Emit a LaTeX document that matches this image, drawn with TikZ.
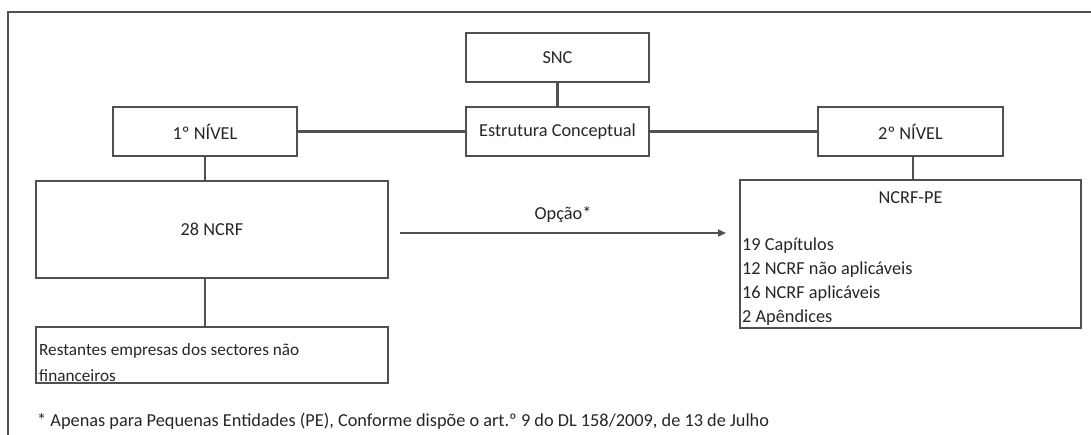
\documentclass[tikz,border=0pt]{standalone}
\usepackage{fontspec}
\setmainfont{Carlito}
\usetikzlibrary{arrows.meta}
\definecolor{edge}{HTML}{505050}
\definecolor{ink}{HTML}{262626}
\begin{document}
\begin{tikzpicture}[x=1pt,y=-1pt,
  box/.style={draw=edge,line width=2.4pt,rectangle,inner sep=0pt},
  lbl/.style={text=ink,font=\fontsize{18.3}{20}\selectfont,inner sep=0pt},
  link/.style={draw=edge,line width=2.4pt}]
\useasboundingbox (0,0) rectangle (1091,434);
\begin{scope}
\clip (0,0) rectangle (1091,434);
\draw[edge,line width=2.2pt] (8,12) rectangle (1100,445);
\end{scope}
% top row
\node[box,minimum width=183pt,minimum height=49pt] (snc) at (557.5,57.5) {};
\node[lbl] at (snc.center) {SNC};
\node[box,minimum width=183pt,minimum height=49pt] (ec) at (557.5,131.5) {};
\node[lbl] at (ec.center) {Estrutura Conceptual};
\node[box,minimum width=184pt,minimum height=49pt] (n1) at (205,131.5) {};
\node[lbl] at (n1.center) {1º NÍVEL};
\node[box,minimum width=185pt,minimum height=49pt] (n2) at (910.5,131.5) {};
\node[lbl] at (n2.center) {2º NÍVEL};
% lower boxes
\node[box,minimum width=352pt,minimum height=97pt] (ncrf) at (212,229.5) {};
\node[lbl] at (ncrf.center) {28 NCRF};
\node[box,minimum width=352pt,minimum height=56pt] (rest) at (212,355) {};
\node[lbl,anchor=base west,font=\fontsize{17.2}{19}\selectfont] at (39,355) {Restantes empresas dos sectores não};
\node[lbl,anchor=base west,font=\fontsize{17.2}{19}\selectfont] at (39,381) {financeiros};
\node[box,minimum width=341pt,minimum height=148pt] (pe) at (910.5,254) {};
\node[lbl,anchor=base] at (910.5,203) {NCRF-PE};
\node[lbl,anchor=base west] at (742,250) {19 Capítulos};
\node[lbl,anchor=base west] at (742,274) {12 NCRF não aplicáveis};
\node[lbl,anchor=base west] at (742,298) {16 NCRF aplicáveis};
\node[lbl,anchor=base west] at (742,322) {2 Apêndices};
% connectors
\draw[link] (snc.south) -- (ec.north);
\draw[link] (n1.east) -- (ec.west);
\draw[link] (ec.east) -- (n2.west);
\draw[link] (n1.south) -- (n1.south |- ncrf.north);
\draw[link] (913,156) -- (913,180);
\draw[link] (205,278) -- (205,327);
\coordinate (astart) at (400,233);
\coordinate (aend) at (726,233);
\draw[link,-{Triangle[length=8pt,width=7pt]},fill=black] (astart) -- node[lbl,above=9pt] {Opção*} (aend);
% footnote
\node[lbl,anchor=base west,font=\fontsize{18.3}{20}\selectfont] (fn) at (37,426) {* Apenas para Pequenas Entidades (PE), Conforme dispõe o art.º 9 do DL 158/2009, de 13 de Julho};
\end{tikzpicture}
\end{document}
